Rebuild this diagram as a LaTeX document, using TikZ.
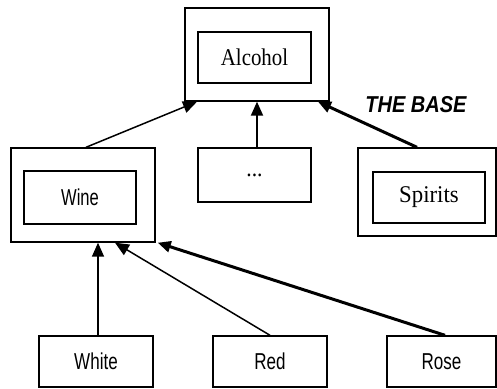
\documentclass[tikz,border=0pt]{standalone}
\usepackage{fontspec}
\setmainfont{Liberation Serif}
\setsansfont{Liberation Sans}
\usetikzlibrary{arrows.meta}
\begin{document}
\begin{tikzpicture}[x=1pt,y=-1pt,
  box/.style={draw,line width=1.4pt,rectangle,inner sep=0pt},
  serl/.style={font=\fontsize{24}{28}\selectfont},
  sanl/.style={font=\sffamily\fontsize{23}{27}\selectfont},
  conn/.style={line width=1.5pt,-{Triangle[length=14pt,width=12pt]}},
  thick conn/.style={line width=3pt,-{Triangle[length=13pt,width=11pt]}},
  mid conn/.style={line width=2pt,-{Triangle[length=14pt,width=12pt]}}]
\useasboundingbox (0,0) rectangle (497,388);
% top
\node[box,minimum width=144pt,minimum height=93pt] (alc) at (257,54.5) {};
\node[box,minimum width=113pt,minimum height=51pt,serl] (alcin) at (254.5,57.5) {\scalebox{0.87}[1]{Alcohol}};
% middle
\node[box,minimum width=144pt,minimum height=94pt] (wine) at (83,195) {};
\node[box,minimum width=112pt,minimum height=53pt,sanl] (winein) at (80,197.5) {\scalebox{0.72}[1]{Wine}};
\node[box,minimum width=113pt,minimum height=54pt,serl] (dots) at (254.5,175) {\scalebox{0.9}[1]{...}};
\node[box,minimum width=138pt,minimum height=88pt] (spir) at (427,192) {};
\node[box,minimum width=112pt,minimum height=51pt,serl] (spirin) at (429,197.5) {\scalebox{0.95}[1]{Spirits}};
% bottom
\node[box,minimum width=114pt,minimum height=51pt,sanl] (white) at (96,361.5) {\scalebox{0.74}[1]{White}};
\node[box,minimum width=114pt,minimum height=51pt,sanl] (red) at (270,361.5) {\scalebox{0.74}[1]{Red}};
\node[box,minimum width=109pt,minimum height=51pt,sanl] (rose) at (441.5,361.5) {\scalebox{0.74}[1]{Rose}};
% label
\node[font=\sffamily\bfseries\itshape\fontsize{23}{27}\selectfont] (base) at (416,105) {\scalebox{0.87}[1]{THE BASE}};
% connectors
\draw[conn] ([xshift=3pt]wine.north) -- ([xshift=-60pt]alc.south);
\draw[mid conn] ([xshift=2.5pt]dots.north) -- ([xshift=0pt]alc.south);
\draw[thick conn] ([xshift=-10pt]spir.north) -- ([xshift=61pt]alc.south);
\draw[conn] ([xshift=2pt]white.north) -- ([xshift=15pt]wine.south);
\draw[conn] (red.north) -- ([xshift=32pt]wine.south);
\draw[thick conn] ([xshift=3.5pt]rose.north) -- ([xshift=2pt]wine.south east);
\end{tikzpicture}
\end{document}
